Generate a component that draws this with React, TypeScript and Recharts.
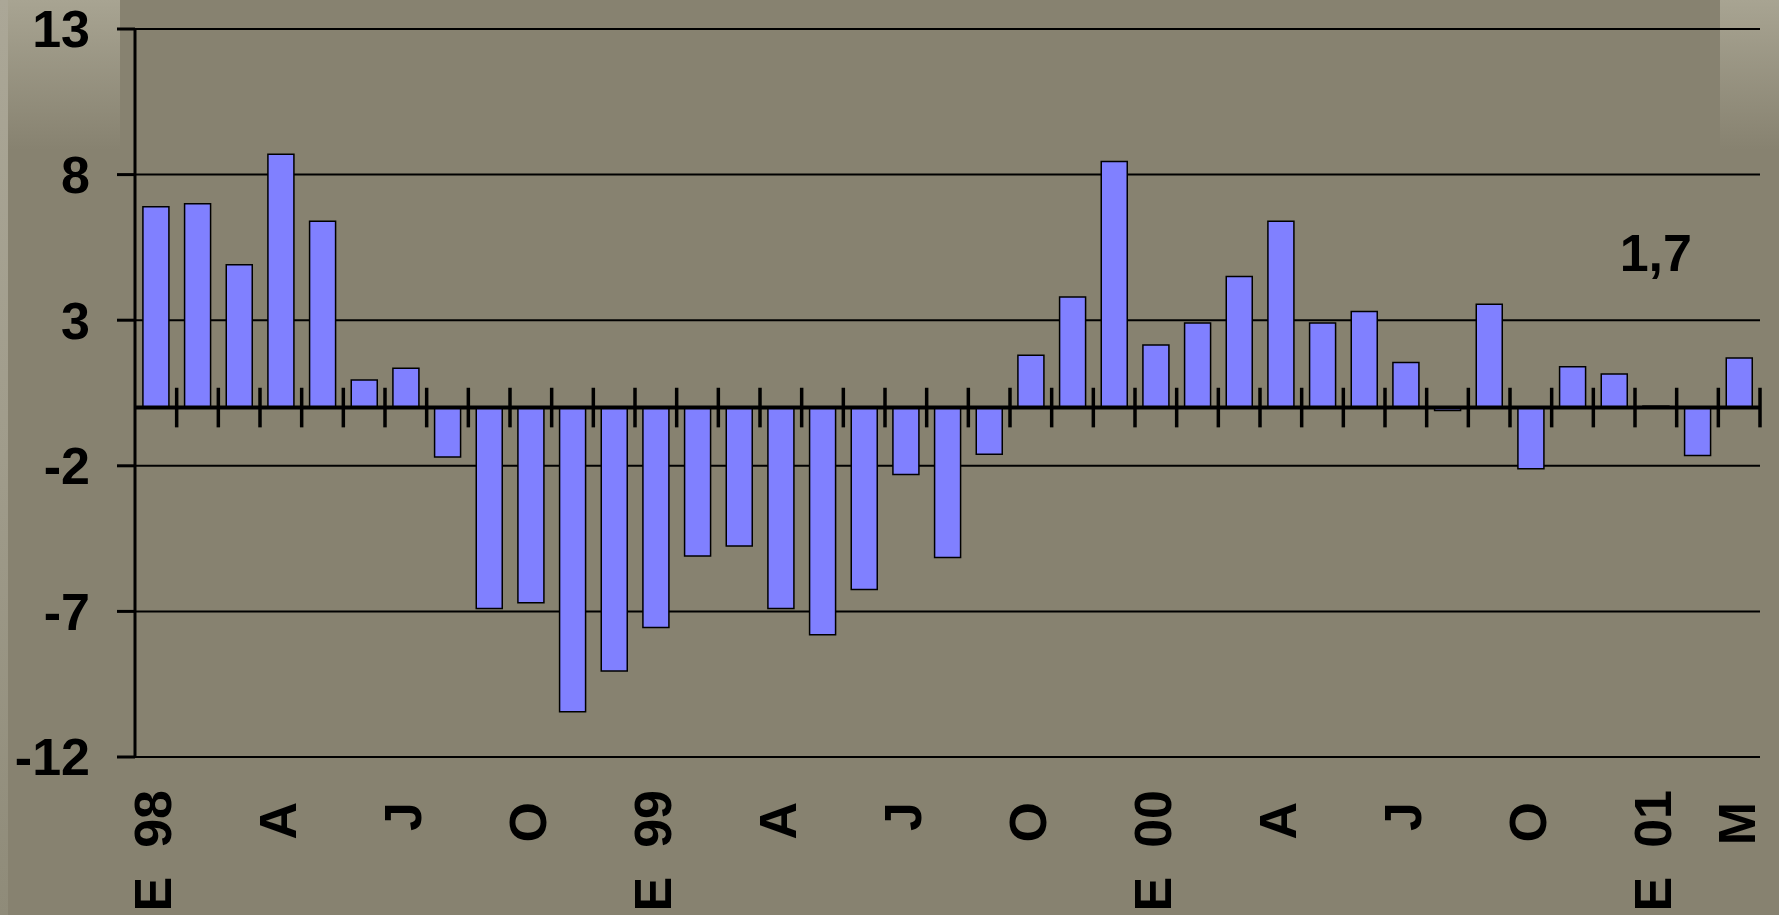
import {
  BarChart,
  Bar,
  XAxis,
  YAxis,
  CartesianGrid,
  ReferenceLine,
  ReferenceDot,
} from "recharts";

const months = [
  "Ene 98", "Feb 98", "Mar 98", "Abr 98", "May 98", "Jun 98", "Jul 98", "Ago 98", "Sep 98", "Oct 98", "Nov 98", "Dic 98",
  "Ene 99", "Feb 99", "Mar 99", "Abr 99", "May 99", "Jun 99", "Jul 99", "Ago 99", "Sep 99", "Oct 99", "Nov 99", "Dic 99",
  "Ene 00", "Feb 00", "Mar 00", "Abr 00", "May 00", "Jun 00", "Jul 00", "Ago 00", "Sep 00", "Oct 00", "Nov 00", "Dic 00",
  "Ene 01", "Feb 01", "Mar 01",
];

const values = [
  6.9, 7.0, 4.9, 8.7, 6.4, 0.95, 1.35, -1.7, -6.9, -6.7, -10.45, -9.05,
  -7.55, -5.1, -4.75, -6.9, -7.8, -6.25, -2.3, -5.15, -1.6, 1.8, 3.8, 8.45,
  2.15, 2.9, 4.5, 6.4, 2.9, 3.3, 1.55, -0.1, 3.55, -2.1, 1.4, 1.15,
  0.05, -1.65, 1.7,
];

// year labels carry a double space, as in the original slide
const tickLabels = [
  "E  98", "", "", "A", "", "", "J", "", "", "O", "", "",
  "E  99", "", "", "A", "", "", "J", "", "", "O", "", "",
  "E  00", "", "", "A", "", "", "J", "", "", "O", "", "",
  "E  01", "", "M",
];

const yTicks = [-12, -7, -2, 3, 8, 13];

const lastLabel = "1,7";

const data = months.map((m, i) => ({ month: m, value: values[i] }));

const FONT = "'Liberation Sans', Arial, sans-serif";
const BG = "#878270";

function MonthTick(props: any) {
  const { x, y, payload } = props;
  const label = tickLabels[months.indexOf(payload.value)];
  if (!label) return null;
  const isYear = label.length > 1;
  return (
    <text
      transform={`translate(${x},${y + (isYear ? 33 : 45)}) rotate(-90)`}
      textAnchor="end"
      dy="0.3em"
      fontSize={52}
      fontWeight="bold"
      fontFamily={FONT}
      fill="#000"
      xmlSpace="preserve"
      style={{ whiteSpace: "pre" }}
    >
      {label}
    </text>
  );
}

export default function App() {
  return (
    <div
      style={{
        position: "absolute",
        left: 0,
        top: 0,
        width: 1779,
        height: 915,
        background: BG,
        overflow: "hidden",
      }}
    >
      <div
        style={{
          position: "absolute",
          left: 0,
          top: 0,
          width: 8,
          height: 915,
          background: "linear-gradient(to bottom, #aba797, #a09c8b 50%, #8f8b79)",
        }}
      />
      <div
        style={{
          position: "absolute",
          left: 8,
          top: 0,
          width: 112,
          height: 150,
          background: "linear-gradient(to bottom, #a8a492, rgba(135,130,112,0))",
        }}
      />
      <div
        style={{
          position: "absolute",
          left: 1720,
          top: 0,
          width: 59,
          height: 150,
          background: "linear-gradient(to bottom, #a8a492, rgba(135,130,112,0))",
        }}
      />
      <div style={{ position: "absolute", left: 0, top: 0 }}>
        <BarChart
          width={1779}
          height={915}
          data={data}
          margin={{ top: 29, right: 19, left: 0, bottom: 0 }}
          barCategoryGap="19%"
        >
          <CartesianGrid
            horizontal
            vertical={false}
            stroke="#000"
            strokeWidth={2}
          />
          <XAxis
            dataKey="month"
            height={158}
            interval={0}
            axisLine={false}
            tickLine={false}
            tickSize={0}
            tickMargin={0}
            tick={<MonthTick />}
          />
          <YAxis
            width={135}
            domain={[-12, 13]}
            ticks={yTicks}
            interval={0}
            axisLine={{ stroke: "#000", strokeWidth: 3 }}
            tickLine={{ stroke: "#000", strokeWidth: 3 }}
            tickSize={18}
            tickMargin={27}
            tick={{ fill: "#000", fontSize: 52, fontWeight: "bold", fontFamily: FONT }}
          />
          <Bar
            dataKey="value"
            fill="#8080ff"
            stroke="#000"
            strokeWidth={1.5}
            isAnimationActive={false}
          />
          <ReferenceLine y={0} stroke="#000" strokeWidth={4} />
          {months.map((m) => (
            <ReferenceLine
              key={m}
              position="end"
              segment={[
                { x: m, y: -0.68 },
                { x: m, y: 0.68 },
              ]}
              stroke="#000"
              strokeWidth={3.5}
            />
          ))}
          <ReferenceDot
            x={months[36]}
            y={4.7}
            r={0}
            shape={(p: any) => (
              <text
                x={p.cx}
                y={p.cy}
                textAnchor="middle"
                fontSize={52}
                fontWeight="bold"
                fontFamily={FONT}
                fill="#000"
              >
                {lastLabel}
              </text>
            )}
          />
        </BarChart>
      </div>
    </div>
  );
}
